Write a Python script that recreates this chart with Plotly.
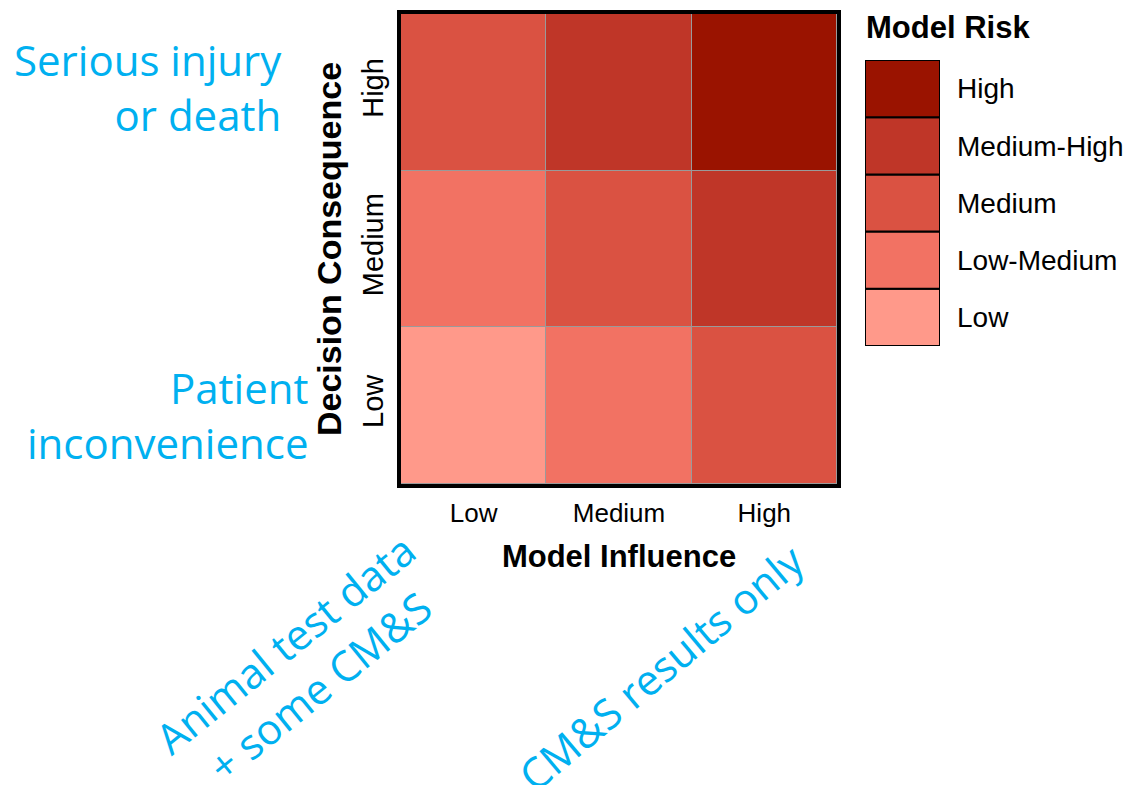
import plotly.graph_objects as go

# ---- data ----
influence = ["Low", "Medium", "High"]          # x categories (Model Influence)
consequence = ["Low", "Medium", "High"]        # y categories (Decision Consequence)
risk_levels = ["Low", "Low-Medium", "Medium", "Medium-High", "High"]
risk_colors = ["#FF998A", "#F27263", "#DA5242", "#BF3628", "#9A1300"]
# risk index per (consequence row, influence column)
risk_low_row = [0, 1, 2]
risk_medium_row = [1, 2, 3]
risk_high_row = [2, 3, 4]

W, H = 1137, 785
def px(x):
    return x / W
def py(y):
    return 1 - y / H

n = len(risk_levels)
colorscale = []
for i, c in enumerate(risk_colors):
    colorscale.append([i / n, c])
    colorscale.append([(i + 1) / n, c])

fig = go.Figure()

fig.add_trace(go.Heatmap(
    x=influence, y=consequence,
    z=[risk_low_row, risk_medium_row, risk_high_row],
    zmin=-0.5, zmax=n - 0.5,
    colorscale=colorscale, showscale=False,
    xgap=1, ygap=1,
    hoverinfo="skip",
    xaxis="x", yaxis="y",
))

# legend as stacked boxes
fig.add_trace(go.Bar(
    y=risk_levels, x=[1] * n, orientation="h", width=1,
    marker=dict(color=risk_colors, line=dict(color="black", width=2)),
    xaxis="x2", yaxis="y2", showlegend=False, hoverinfo="skip",
))

axis_font = dict(family="Liberation Sans, Arial", color="black")

fig.update_layout(
    width=W, height=H,
    margin=dict(l=0, r=0, t=0, b=0),
    paper_bgcolor="white",
    plot_bgcolor="#9a9a9a",
    showlegend=False,
    xaxis=dict(
        domain=[px(401), px(837)],
        type="category",
        showline=True, linecolor="black", linewidth=4, mirror=True,
        showgrid=False, zeroline=False,
        ticks="", ticklabelstandoff=3,
        tickfont=dict(size=26, **axis_font),
        title=dict(text="<b>Model Influence</b>", font=dict(size=31, **axis_font), standoff=19),
        anchor="y",
    ),
    yaxis=dict(
        domain=[py(484), py(14)],
        type="category",
        showline=True, linecolor="black", linewidth=4, mirror=True,
        showgrid=False, zeroline=False,
        ticks="", ticklabelstandoff=2, tickangle=-90,
        tickfont=dict(size=29, **axis_font),
        title=dict(text="<b>Decision Consequence</b>", font=dict(size=34, **axis_font), standoff=7),
        anchor="x",
    ),
    xaxis2=dict(
        domain=[px(865), px(940)], range=[0, 1],
        visible=False, fixedrange=True, anchor="y2",
    ),
    yaxis2=dict(
        domain=[py(346), py(60)], range=[-0.5, n - 0.5],
        type="category", side="right", anchor="x2",
        showline=False, showgrid=False, zeroline=False,
        ticks="", ticklabelstandoff=16,
        tickfont=dict(size=28, **axis_font),
    ),
)

blue = "#00B0F0"
side_font = dict(family="Open Sans", size=42, color=blue)

annotations = [
    dict(text="<b>Model Risk</b>", x=px(864), y=py(28), xanchor="left", yanchor="middle",
         font=dict(size=31, **axis_font)),
    dict(text="Serious injury<br>or death", x=px(284), y=py(87), xanchor="right", yanchor="middle",
         align="right", font=side_font),
    dict(text="Patient<br>inconvenience", x=px(310), y=py(415), xanchor="right", yanchor="middle",
         align="right", font=side_font),
    dict(text="Animal test data<br>+ some CM&S", x=px(302), y=py(665), xanchor="center", yanchor="middle",
         align="center", textangle=-39, font=side_font),
    dict(text="CM&S results only", x=px(660), y=py(667), xanchor="center", yanchor="middle",
         align="center", textangle=-40, font=side_font),
]
for a in annotations:
    a.update(xref="paper", yref="paper", showarrow=False)
fig.update_layout(annotations=annotations)

fig.write_html("out.html", config={"displayModeBar": False},
               post_script="document.body.style.margin='0';")
